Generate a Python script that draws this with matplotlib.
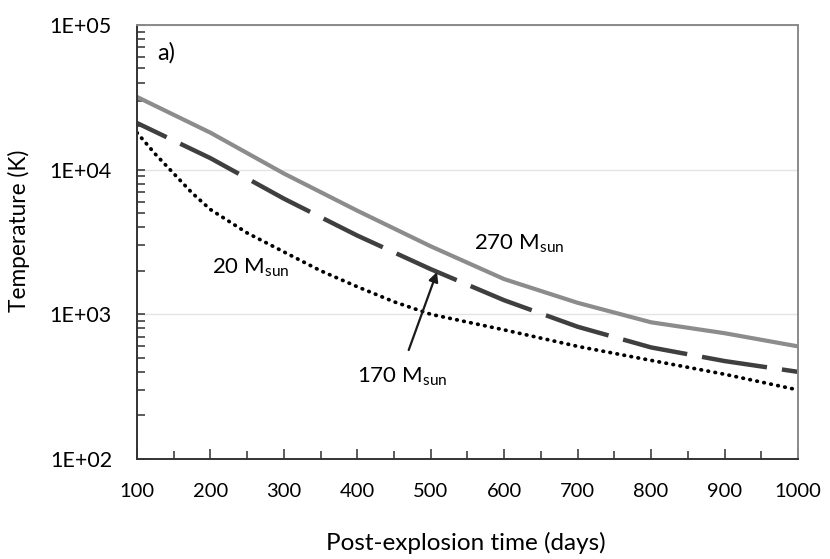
import matplotlib
matplotlib.use("Agg")
import matplotlib.pyplot as plt
from matplotlib.ticker import FixedLocator, NullFormatter, LogLocator

plt.rcParams['font.family'] = ['Lato', 'DejaVu Sans']
plt.rcParams['mathtext.fontset'] = 'custom'
plt.rcParams['mathtext.rm'] = 'Lato'
plt.rcParams['mathtext.it'] = 'Lato'

# data
days = [100, 200, 300, 400, 500, 600, 700, 800, 900, 1000]
t270 = [31800, 18000, 9400, 5200, 2950, 1750, 1200, 880, 740, 600]
t170 = [21000, 12000, 6300, 3500, 2050, 1250, 820, 590, 475, 400]
days20 = [100, 125, 150, 175, 200, 250, 300, 350, 400, 450, 500, 600, 700, 800, 900, 1000]
t20 = [18000, 12800, 9400, 6900, 5300, 3650, 2700, 2000, 1550, 1220, 1000, 780, 600, 480, 385, 300]

fig = plt.figure(figsize=(8.3, 5.59), dpi=100)
ax = fig.add_axes([0.165, 0.179, 0.7964, 0.7764])

ax.plot(days, t270, color='#8c8c8c', lw=3.0, solid_capstyle='butt')
ax.plot(days, t170, color='#3f3f3f', lw=3.2, linestyle=(7.4, (14.8, 3.4)))
ax.plot(days20, t20, color='black', lw=2.7, linestyle=(0, (0.15, 1.75)),
        dash_capstyle='round')

ax.set_yscale('log')
ax.set_xlim(100, 1000)
ax.set_ylim(100, 1e5)

ax.xaxis.set_major_locator(FixedLocator(range(100, 1001, 100)))
ax.xaxis.set_minor_locator(FixedLocator(range(150, 1000, 100)))
ax.yaxis.set_major_locator(FixedLocator([1e2, 1e3, 1e4, 1e5]))
ax.yaxis.set_minor_locator(LogLocator(base=10, subs=range(2, 10)))
ax.yaxis.set_minor_formatter(NullFormatter())
ax.set_yticklabels(['1E+02', '1E+03', '1E+04', '1E+05'])

ax.tick_params(axis='both', which='both', direction='in', labelsize=14.5,
               color='#404040', width=1.2)
ax.tick_params(axis='x', which='major', length=7, pad=17)
ax.tick_params(axis='x', which='minor', length=5.5)
ax.tick_params(axis='y', which='major', length=6, pad=18)
ax.tick_params(axis='y', which='minor', length=5.5)
ax.tick_params(axis='y', which='major', labelsize=15.5)

ax.grid(True, which='major', axis='y', color='#e4e4e4', lw=1.0)
ax.set_axisbelow(True)

for side in ['left', 'bottom']:
    ax.spines[side].set_color('#333333')
    ax.spines[side].set_linewidth(1.4)
for side in ['top', 'right']:
    ax.spines[side].set_color('#8a8a8a')
    ax.spines[side].set_linewidth(1.4)

ax.set_xlabel('Post-explosion time (days)', fontsize=17.5)
ax.set_ylabel('Temperature (K)', fontsize=16.3)
ax.xaxis.label.set_verticalalignment('center')
ax.yaxis.label.set_verticalalignment('center')
ax.xaxis.set_label_coords(0.498, -0.194)
ax.yaxis.set_label_coords(-0.178, 0.525)

ax.text(0.03, 0.935, 'a)', transform=ax.transAxes, fontsize=17, va='center')
ax.text(202, 1900, r'20 M$_{\mathrm{sun}}$', fontsize=16, ha='left', va='baseline')
ax.text(559, 2780, r'270 M$_{\mathrm{sun}}$', fontsize=16, ha='left', va='baseline')
ax.text(400, 335, r'170 M$_{\mathrm{sun}}$', fontsize=16, ha='left', va='baseline')
ax.annotate('', xy=(508.5, 1960), xytext=(470, 566),
            arrowprops=dict(arrowstyle='-|>', color='#1a1a1a', lw=1.6,
                            mutation_scale=14, shrinkA=0, shrinkB=0))

fig.savefig('out.png', dpi=100)
